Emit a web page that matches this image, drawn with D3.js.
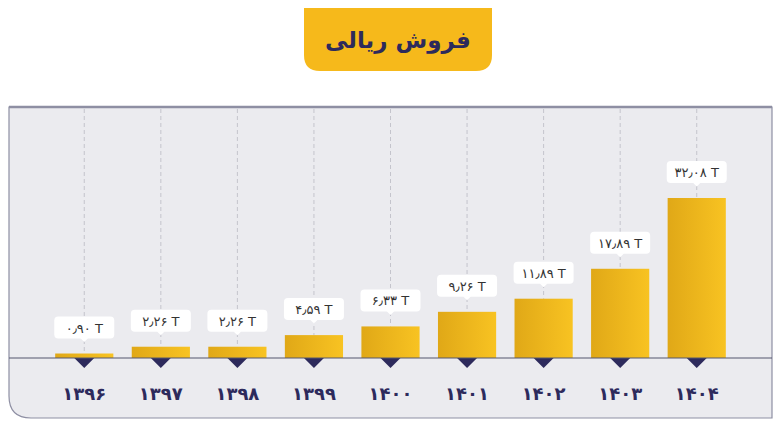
<!DOCTYPE html>
<html><head><meta charset="utf-8">
<script src="https://cdn.jsdelivr.net/npm/d3@7"></script>
<style>body{margin:0;background:#fff}</style></head>
<body><svg id="c" width="783" height="431"></svg>
<script>
const years = ['۱۳۹۶','۱۳۹۷','۱۳۹۸','۱۳۹۹','۱۴۰۰','۱۴۰۱','۱۴۰۲','۱۴۰۳','۱۴۰۴'];
const values = [0.90, 2.26, 2.26, 4.59, 6.33, 9.26, 11.89, 17.89, 32.08];
const valueLabels = ['۰٫۹۰','۲٫۲۶','۲٫۲۶','۴٫۵۹','۶٫۳۳','۹٫۲۶','۱۱٫۸۹','۱۷٫۸۹','۳۲٫۰۸'];
const title = 'فروش ریالی';

const svg = d3.select('#c');
const font = 'DejaVu Sans';
const navy = '#2d2a5c';

// panel
const px0 = 9, px1 = 772, py0 = 107, py1 = 418, r = 22;
svg.append('path')
  .attr('d', `M${px0},${py0}H${px1}V${py1}H${px0+r}Q${px0},${py1} ${px0},${py1-r}Z`)
  .attr('fill', '#ebebef').attr('stroke', '#8e8fa3').attr('stroke-width', 1.2);
svg.append('line').attr('x1', px0).attr('x2', px1).attr('y1', py0).attr('y2', py0)
  .attr('stroke', '#8e8fa3').attr('stroke-width', 2.5);

// title box
const tx0 = 304, tx1 = 492, ty0 = 8, ty1 = 71, tr = 16;
svg.append('path')
  .attr('d', `M${tx0},${ty0}H${tx1}V${ty1-tr}Q${tx1},${ty1} ${tx1-tr},${ty1}H${tx0+tr}Q${tx0},${ty1} ${tx0},${ty1-tr}Z`)
  .attr('fill', '#f6b91b');
svg.append('text').attr('x', (tx0+tx1)/2).attr('y', 48).attr('text-anchor', 'middle')
  .attr('font-family', font).attr('font-weight', 'bold').attr('font-size', 23)
  .attr('fill', navy).text(title);

const x = d3.scaleBand().domain(years).range([46, 735]).paddingInner(0.24).paddingOuter(0.12);
const y = d3.scaleLinear().domain([0, 32.08]).range([358, 198]);

const grad = svg.append('defs').append('linearGradient').attr('id', 'g');
grad.append('stop').attr('offset', '0%').attr('stop-color', '#e0a817');
grad.append('stop').attr('offset', '100%').attr('stop-color', '#f8c322');

const g = svg.selectAll('.cat').data(years).enter().append('g');
g.append('line')
  .attr('x1', d => x(d) + x.bandwidth()/2).attr('x2', d => x(d) + x.bandwidth()/2)
  .attr('y1', py0 + 2).attr('y2', (d, i) => y(values[i]))
  .attr('stroke', '#c4c4cc').attr('stroke-dasharray', '4,3');
g.append('rect')
  .attr('x', d => x(d)).attr('width', x.bandwidth())
  .attr('y', (d, i) => y(values[i])).attr('height', (d, i) => y(0) - y(values[i]))
  .attr('fill', 'url(#g)');
// label boxes
g.append('rect')
  .attr('x', d => x(d) + x.bandwidth()/2 - 30).attr('width', 60)
  .attr('y', (d, i) => y(values[i]) - 37).attr('height', 22).attr('rx', 4)
  .attr('fill', '#fff');
g.append('path')
  .attr('d', (d, i) => { const cx = x(d) + x.bandwidth()/2, yy = y(values[i]) - 15.5; return `M${cx-4},${yy}L${cx},${yy+4}L${cx+4},${yy}Z`; })
  .attr('fill', '#fff');
g.append('text')
  .attr('x', d => x(d) + x.bandwidth()/2).attr('y', (d, i) => y(values[i]) - 21)
  .attr('text-anchor', 'middle').attr('font-family', font).attr('font-size', 13)
  .attr('fill', '#333').attr('direction', 'ltr')
  .text((d, i) => valueLabels[i] + ' T');

// baseline
svg.append('line').attr('x1', px0).attr('x2', px1).attr('y1', y(0)).attr('y2', y(0))
  .attr('stroke', '#55566e').attr('stroke-width', 1.2);

g.append('path')
  .attr('d', d => { const cx = x(d) + x.bandwidth()/2, yy = y(0); return `M${cx-10},${yy}L${cx+10},${yy}L${cx},${yy+10}Z`; })
  .attr('fill', navy);
g.append('text')
  .attr('x', d => x(d) + x.bandwidth()/2).attr('y', 400)
  .attr('text-anchor', 'middle').attr('font-family', font).attr('font-weight', 'bold')
  .attr('font-size', 18).attr('fill', navy).text(d => d);
</script></body></html>
